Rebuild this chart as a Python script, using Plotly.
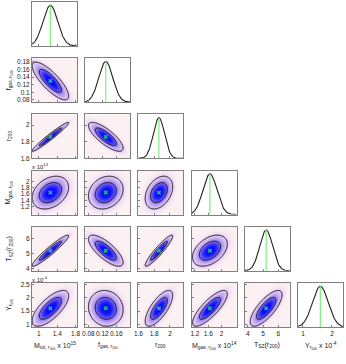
import numpy as np
import plotly.graph_objects as go
from plotly.subplots import make_subplots

# parameter summaries
names = ["Mtot", "fgas", "r200", "Mgas", "Tsz", "Y"]
means = [1.25, 0.13, 1.86, 1.65, 5.2, 1.6]
sigmas = [0.16, 0.02, 0.07, 0.21, 0.42, 0.27]

# correlation between parameter i (row) and j (column), lower triangle
corr = {
    (1, 0): -0.80,
    (2, 0): 0.97, (2, 1): -0.78,
    (3, 0): 0.32, (3, 1): 0.20, (3, 2): 0.35,
    (4, 0): 0.95, (4, 1): -0.75, (4, 2): 0.93, (4, 3): 0.42,
    (5, 0): 0.70, (5, 1): -0.08, (5, 2): 0.72, (5, 3): 0.80, (5, 4): 0.75,
}

# axis ranges and ticks
x_ranges = [[0.85, 1.83], [0.071, 0.2], [1.6, 2.17], [1.1, 2.45], [3.8, 6.75], [0.83, 2.38]]
y_ranges = [None, [0.074, 0.19], [1.6, 2.13], [0.95, 2.35], [3.85, 6.8], [0.9, 2.55]]
x_ticks = [[1, 1.4, 1.8], [0.08, 0.12, 0.16], [1.6, 1.8, 2], [1.2, 1.6, 2], [4, 5, 6], [1, 2]]
y_ticks = [None, [0.08, 0.1, 0.12, 0.14, 0.16, 0.18], [1.6, 1.8, 2],
           [1.2, 1.4, 1.6, 1.8, 2], [4, 5, 6], [1, 1.5, 2, 2.5]]

x_titles = [
    "M<sub>tot, r<sub>500</sub></sub> x 10<sup>15</sup>",
    "f<sub>gas, r<sub>500</sub></sub>",
    "r<sub>200</sub>",
    "M<sub>gas, r<sub>500</sub></sub> x 10<sup>14</sup>",
    "T<sub>SZ</sub>(r<sub>200</sub>)",
    "Y<sub>r<sub>500</sub></sub> x 10<sup>-4</sup>",
]
y_titles = [
    None,
    "f<sub>gas, r<sub>500</sub></sub>",
    "r<sub>200</sub>",
    "M<sub>gas, r<sub>500</sub></sub>",
    "T<sub>SZ</sub>(r<sub>200</sub>)",
    "Y<sub>r<sub>500</sub></sub>",
]

W, H = 346, 364
N = 6
fig = make_subplots(rows=N, cols=N)

colorscale = [
    [0.0, "#fcf1f2"], [0.012, "#f5e6f4"], [0.04, "#e6d0f3"], [0.12, "#cdb2f1"],
    [0.3, "#8f78f1"], [0.5, "#4a42f5"], [0.75, "#1818fc"], [1.0, "#0000ff"],
]
font = "Liberation Sans, Arial, sans-serif"
frame = dict(showline=True, mirror=True, linecolor="#808080", linewidth=1,
             showgrid=False, zeroline=False, ticks="inside", ticklen=2,
             tickcolor="#808080", automargin=False, tickangle=0,
             tickfont=dict(size=6.5, color="#222", family=font))

for i in range(N):
    for j in range(N):
        r, c = i + 1, j + 1
        left = 32 + 53.2 * j
        top = 2 + 56.2 * i
        xd = [left / W, (left + 45) / W]
        yd = [1 - (top + 44) / H, 1 - top / H]
        if j > i:
            fig.update_xaxes(visible=False, domain=xd, automargin=False, row=r, col=c)
            fig.update_yaxes(visible=False, domain=yd, automargin=False, row=r, col=c)
            continue
        xr = x_ranges[j]
        show_x = (i == N - 1)
        if i == j:
            xs = np.linspace(xr[0], xr[1], 200)
            ys = np.exp(-0.5 * ((xs - means[j]) / sigmas[j]) ** 2)
            fig.add_trace(go.Scatter(x=xs, y=ys, mode="lines",
                                     line=dict(color="#222", width=1.1),
                                     hoverinfo="skip"), row=r, col=c)
            fig.add_trace(go.Scatter(x=[means[j], means[j]], y=[0, 1], mode="lines",
                                     line=dict(color="#7ef07e", width=1.2),
                                     hoverinfo="skip"), row=r, col=c)
            fig.update_yaxes(range=[0, 1.08], showticklabels=False, domain=yd,
                             **dict(frame, ticks=""), row=r, col=c)
        else:
            yr = y_ranges[i]
            gx = np.linspace(xr[0], xr[1], 90)
            gy = np.linspace(yr[0], yr[1], 90)
            X, Y = np.meshgrid(gx, gy)
            rho = corr[(i, j)]
            u = (X - means[j]) / sigmas[j]
            v = (Y - means[i]) / sigmas[i]
            q = (u * u - 2 * rho * u * v + v * v) / (1 - rho * rho)
            z = np.exp(-0.5 * q)
            fig.add_trace(go.Heatmap(x=gx, y=gy, z=z, zmin=0, zmax=1, zsmooth="best",
                                     colorscale=colorscale, showscale=False,
                                     hoverinfo="skip"), row=r, col=c)
            fig.add_trace(go.Contour(x=gx, y=gy, z=z, showscale=False,
                                     contours=dict(start=0.046, end=0.317, size=0.271,
                                                   coloring="none"),
                                     line=dict(color="#111", width=1),
                                     hoverinfo="skip"), row=r, col=c)
            fig.add_trace(go.Scatter(x=[means[j]], y=[means[i]], mode="markers",
                                     marker=dict(symbol="x", size=4, color="#12c85a",
                                                 line=dict(width=0)),
                                     hoverinfo="skip"), row=r, col=c)
            fig.update_yaxes(range=yr, domain=yd, tickvals=y_ticks[i],
                             ticktext=[f"{t:g}" for t in y_ticks[i]],
                             showticklabels=(j == 0), **frame, row=r, col=c)
        fig.update_xaxes(range=xr, domain=xd, tickvals=x_ticks[j],
                         ticktext=[f"{t:g}" for t in x_ticks[j]],
                         showticklabels=show_x, **frame, row=r, col=c)

annotations = []
for j in range(N):
    cx = (32 + 53.2 * j + 22.5) / W
    annotations.append(dict(text=x_titles[j], x=cx, y=1 - 339 / H, xref="paper", yref="paper",
                            xanchor="center", yanchor="top", showarrow=False,
                            font=dict(size=7, color="#222", family=font)))
for i in range(1, N):
    cy = 1 - (2 + 56.2 * i + 22) / H
    annotations.append(dict(text=y_titles[i], x=9 / W, y=cy, xref="paper", yref="paper",
                            xanchor="center", yanchor="middle", textangle=-90, showarrow=False,
                            font=dict(size=7, color="#222", family=font)))
# exponent labels above the y axes
annotations.append(dict(text="x 10<sup>14</sup>", x=30 / W, y=1 - 160 / H, xref="paper",
                        yref="paper", xanchor="left", yanchor="top", showarrow=False,
                        font=dict(size=6, color="#222", family=font)))
annotations.append(dict(text="x 10<sup>-4</sup>", x=30 / W, y=1 - 273 / H, xref="paper",
                        yref="paper", xanchor="left", yanchor="top", showarrow=False,
                        font=dict(size=6, color="#222", family=font)))

fig.update_layout(
    width=W, height=H,
    margin=dict(l=0, r=0, t=0, b=0),
    paper_bgcolor="white", plot_bgcolor="white",
    showlegend=False,
    annotations=annotations,
)

fig.write_html("out.html", config={"displayModeBar": False},
               post_script="document.body.style.margin='0px';document.body.style.overflow='hidden';")
